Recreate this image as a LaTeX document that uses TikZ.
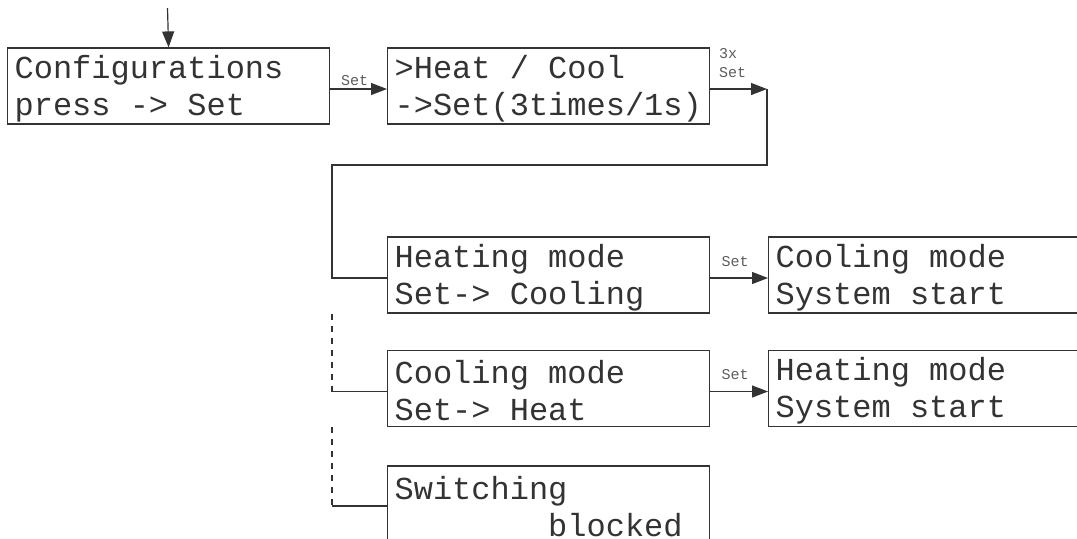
\documentclass[tikz,border=0pt]{standalone}
\usepackage{fontspec}
\setmonofont{Liberation Mono}
\usetikzlibrary{arrows.meta}
\definecolor{lcdgray}{HTML}{333333}

\newcommand{\lcdfont}{\ttfamily\fontsize{16}{18.5}\selectfont}
\newcommand{\lcdspacing}{\spaceskip=0.6em\xspaceskip=0.6em\relax\rule{0pt}{14pt}}

\begin{document}
\begin{tikzpicture}[x=0.5pt, y=-0.5pt]
  \tikzset{
    menu_box/.style={draw=lcdgray, line width=0.6pt, text=lcdgray, anchor=west, align=left,
      text width=154pt, minimum width=161pt, minimum height=38pt, inner xsep=3.5pt, inner ysep=0pt,
      font=\lcdfont, execute at begin node=\lcdspacing},
    wide_box/.style={menu_box, text width=163pt, minimum width=170pt},
    key_label/.style={text=lcdgray!80, font=\ttfamily\fontsize{7.5}{9.5}\selectfont, inner sep=1.5pt, align=left},
    link/.style={draw=lcdgray, line width=0.6pt},
    arr/.style={link, -{Triangle[length=8pt, width=6pt]}}
  }

  % Rahmen der Abbildung
  \useasboundingbox (0,0) rectangle (1077,538);
  \clip (0,0) rectangle (1077,538);

  % Menuefelder
  \node[menu_box] (cfg) at (7,86) {Configurations\\press -> Set};
  \node[menu_box] (hc) at (387,86) {>Heat / Cool\\->Set(3times/1s)};
  \node[menu_box] (heat) at (387,275) {Heating mode\\Set-> Cooling};
  \node[menu_box] (cool) at (387,388.5) {Cooling mode\\Set-> Heat};
  \node[menu_box] (block) at (387,504) {Switching\\\phantom{Switchin}blocked};
  \node[wide_box] (coolstart) at (768,275) {Cooling mode\\System start};
  \node[wide_box] (heatstart) at (768,388.5) {Heating mode\\System start};

  % Hilfspunkte
  \coordinate (start) at (167.5,8);
  \coordinate (turn) at (767,89);
  \coordinate (loop) at (332,165);

  % Verbindungen
  \draw[arr] (start) -- (cfg.north);
  \draw[arr] ([yshift=-1.5pt]cfg.east) -- node[key_label, above, xshift=-2pt] {Set} ([yshift=-1.5pt]hc.west);
  \draw[arr] ([yshift=-1.5pt]hc.east) -- node[key_label, above=4pt, xshift=-3pt] {3x\\Set} (turn);
  \draw[link] (turn) |- (loop) |- ([yshift=-1.5pt]heat.west);
  \draw[link, dashed] (loop |- heat.south) -- ([yshift=-1.5pt]loop |- cool.west);
  \draw[link] ([yshift=-1.5pt]loop |- cool.west) -- ([yshift=-1.5pt]cool.west);
  \draw[link, dashed] (loop |- cool.south) -- ([yshift=-1pt]loop |- block.west);
  \draw[link] ([yshift=-1pt]loop |- block.west) -- ([yshift=-1pt]block.west);
  \draw[arr] ([yshift=-1.5pt]heat.east) -- node[key_label, above=4pt, xshift=-2pt] {Set} ([yshift=-1.5pt]coolstart.west);
  \draw[arr] ([yshift=-1.5pt]cool.east) -- node[key_label, above=4pt, xshift=-2pt] {Set} ([yshift=-1.5pt]heatstart.west);
\end{tikzpicture}
\end{document}
